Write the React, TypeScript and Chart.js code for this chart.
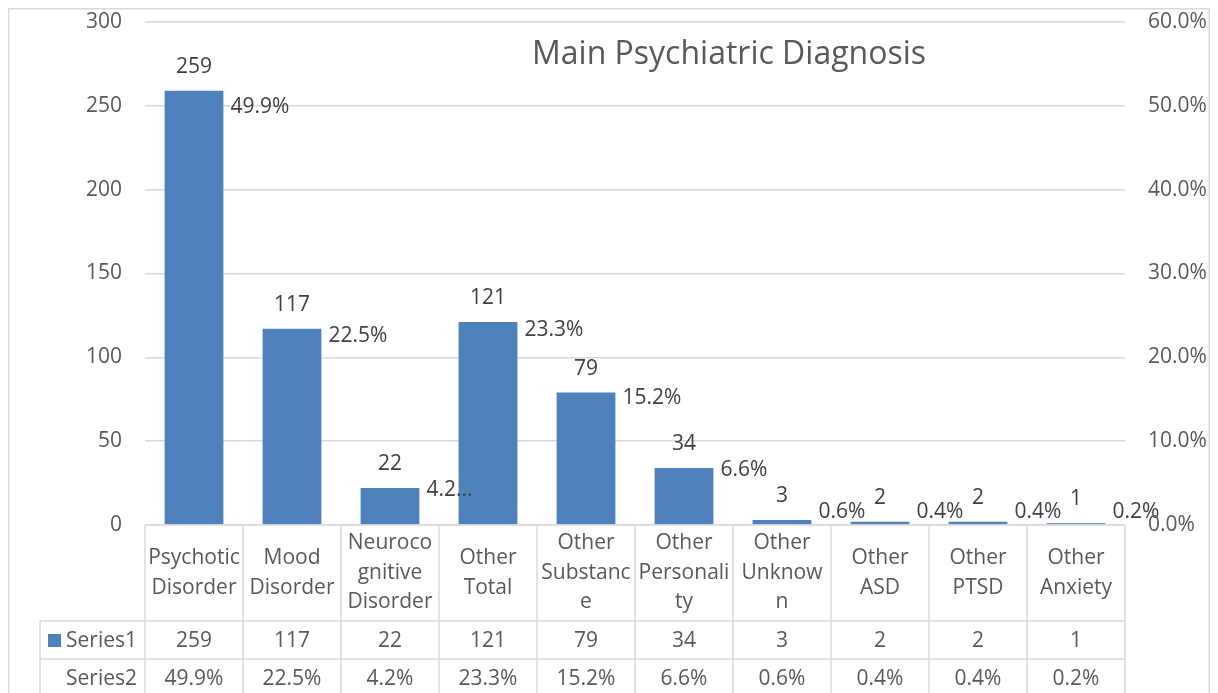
import React, { useEffect, useRef } from "react";
import { Chart, registerables } from "chart.js";
Chart.register(...registerables);

const title = "Main Psychiatric Diagnosis";
const categories: string[][] = [
  ["Psychotic", "Disorder"],
  ["Mood", "Disorder"],
  ["Neuroco", "gnitive", "Disorder"],
  ["Other", "Total"],
  ["Other", "Substanc", "e"],
  ["Other", "Personali", "ty"],
  ["Other", "Unknow", "n"],
  ["Other", "ASD"],
  ["Other", "PTSD"],
  ["Other", "Anxiety"],
];
const seriesNames = ["Series1", "Series2"];
const series1 = [259, 117, 22, 121, 79, 34, 3, 2, 2, 1];
const series2 = [49.9, 22.5, 4.2, 23.3, 15.2, 6.6, 0.6, 0.4, 0.4, 0.2];
const leftAxis = { min: 0, max: 300, step: 50 };
const rightAxis = { min: 0, max: 60, step: 10 };

const FONT = '"Open Sans", sans-serif';
const AXIS_COLOR = "#595959";
const LABEL_COLOR = "#404040";
const LINE_COLOR = "#d9d9d9";
const BAR_COLOR = "#4f81bd";
const FS = 21;

const fmtPct = (v: number) => v.toFixed(1) + "%";

const excelPlugin = {
  id: "excelPlugin",
  beforeDraw(chart: any) {
    const { ctx, width } = chart;
    ctx.save();
    ctx.fillStyle = "#ffffff";
    ctx.fillRect(0, 0, width, chart.height);
    ctx.strokeStyle = LINE_COLOR;
    ctx.lineWidth = 1.5;
    ctx.strokeRect(0.75, 0.75, width - 1.5, chart.height + 20);
    ctx.restore();
  },
  afterDatasetsDraw(chart: any) {
    const { ctx, chartArea } = chart;
    const barMeta = chart.getDatasetMeta(0);
    const y1 = chart.scales.y1;
    ctx.save();
    ctx.font = `${FS}px ${FONT}`;
    ctx.fillStyle = LABEL_COLOR;
    ctx.textBaseline = "middle";
    barMeta.data.forEach((bar: any, i: number) => {
      ctx.textAlign = "center";
      ctx.fillText(String(series1[i]), bar.x, bar.y - 24);
      const lx = bar.x + bar.width / 2 + 7;
      const ly = Math.min(y1.getPixelForValue(series2[i]), chartArea.bottom - 13);
      let txt = fmtPct(series2[i]);
      const next = barMeta.data[i + 1];
      if (next) {
        const nextLeft = next.x - next.width / 2;
        const w = ctx.measureText(txt).width;
        if (lx + w > nextLeft && ly > next.y) {
          txt = txt.slice(0, 3) + "...";
        }
      }
      ctx.textAlign = "left";
      ctx.fillText(txt, lx, ly);
    });
    ctx.restore();
  },
  afterDraw(chart: any) {
    const { ctx, chartArea, height } = chart;
    const x = chart.scales.x;
    const y1 = chart.scales.y1;
    const n = categories.length;
    const colW = (chartArea.right - chartArea.left) / n;
    const top = chartArea.bottom;
    const catH = 96;
    const rowH = 38;
    const headerLeft = 32;
    ctx.save();
    ctx.strokeStyle = LINE_COLOR;
    ctx.lineWidth = 1.5;
    ctx.beginPath();
    ctx.moveTo(chartArea.left, top);
    ctx.lineTo(chartArea.right, top);
    for (let r = 0; r < 3; r++) {
      const yy = top + catH + r * rowH;
      ctx.moveTo(headerLeft, yy);
      ctx.lineTo(chartArea.right, yy);
    }
    for (let k = 0; k <= n; k++) {
      const xx = chartArea.left + k * colW;
      ctx.moveTo(xx, top);
      ctx.lineTo(xx, height + 5);
    }
    ctx.moveTo(headerLeft, top + catH);
    ctx.lineTo(headerLeft, height + 5);
    ctx.stroke();

    ctx.font = `${FS}px ${FONT}`;
    ctx.fillStyle = AXIS_COLOR;
    ctx.textBaseline = "middle";

    // right axis labels (secondary axis, left-aligned)
    ctx.textAlign = "left";
    y1.ticks.forEach((t: any) => {
      ctx.fillText(fmtPct(Number(t.value)), chartArea.right + 23, y1.getPixelForValue(t.value));
    });

    ctx.textAlign = "center";
    const lh = 29.5;
    categories.forEach((lines, i) => {
      const cx = x.getPixelForValue(i);
      const cy = top + catH / 2;
      const start = cy - ((lines.length - 1) * lh) / 2;
      lines.forEach((l, j) => ctx.fillText(l, cx, start + j * lh));
      ctx.fillText(String(series1[i]), cx, top + catH + rowH / 2 + 1);
      ctx.fillText(fmtPct(series2[i]), cx, top + catH + rowH * 1.5 + 1);
    });
    ctx.textAlign = "right";
    const hx = chartArea.left - 8;
    ctx.fillText(seriesNames[0], hx, top + catH + rowH / 2 + 1);
    ctx.fillText(seriesNames[1], hx, top + catH + rowH * 1.5 + 1);
    ctx.fillStyle = BAR_COLOR;
    ctx.fillRect(40, top + catH + rowH / 2 - 6, 13, 13);

    ctx.fillStyle = AXIS_COLOR;
    ctx.font = `32px ${FONT}`;
    ctx.textAlign = "center";
    ctx.textBaseline = "alphabetic";
    ctx.fillText(title, 721, 56);
    ctx.restore();
  },
};

export default function App() {
  const ref = useRef<HTMLCanvasElement>(null);
  useEffect(() => {
    const chart = new Chart(ref.current!, {
      type: "bar",
      data: {
        labels: categories.map((c) => c.join(" ")),
        datasets: [
          {
            label: seriesNames[0],
            data: series1,
            backgroundColor: BAR_COLOR,
            yAxisID: "y",
            categoryPercentage: 1,
            barPercentage: 0.6,
            order: 1,
          },
          {
            type: "line",
            label: seriesNames[1],
            data: series2,
            yAxisID: "y1",
            showLine: false,
            pointRadius: 0,
            borderColor: "transparent",
            backgroundColor: "transparent",
            order: 0,
          } as any,
        ],
      },
      options: {
        animation: false,
        responsive: false,
        maintainAspectRatio: false,
        layout: { padding: { top: 14, bottom: 168, left: 0, right: 0 } },
        plugins: { legend: { display: false }, tooltip: { enabled: false }, title: { display: false } },
        scales: {
          x: { display: false, offset: true },
          y: {
            position: "left",
            min: leftAxis.min,
            max: leftAxis.max,
            ticks: { stepSize: leftAxis.step, color: AXIS_COLOR, font: { family: FONT, size: FS }, padding: 23 },
            grid: { color: LINE_COLOR, lineWidth: 1.5, drawTicks: false },
            border: { display: false },
            afterFit: (s: any) => { s.width = 137; s.paddingTop = 0; s.paddingBottom = 0; },
          },
          y1: {
            position: "right",
            min: rightAxis.min,
            max: rightAxis.max,
            ticks: { stepSize: rightAxis.step, display: false },
            grid: { display: false, drawTicks: false },
            border: { display: false },
            afterFit: (s: any) => { s.width = 85; s.paddingTop = 0; s.paddingBottom = 0; },
          },
        },
      },
      plugins: [excelPlugin],
    });
    return () => chart.destroy();
  }, []);
  return (
    <div style={{ width: 1202, height: 685 }}>
      <canvas ref={ref} width={1202} height={685} style={{ display: "block" }} />
    </div>
  );
}
